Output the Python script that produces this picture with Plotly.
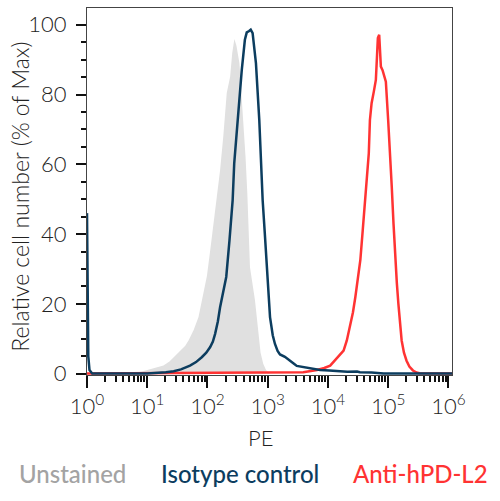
import plotly.graph_objects as go

# PE intensity (x) and % of max (y)
unstained_x = [1, 5.13, 8.13, 11.2, 14.5, 18.6, 23.4, 27.5, 32.4, 37.7, 42.8, 48.5, 59.0, 71.0,
               85.9, 97.9, 111, 126, 139, 162, 183, 209, 238, 258, 280, 303, 339, 365, 394,
               429, 459, 508, 615, 695, 762, 843, 938, 1076]
unstained_y = [0, 0, 0.6, 1.3, 1.8, 2.3, 3.5, 4.7, 6.0, 7.1, 8.0, 9.5, 12.5, 16.2,
               22.9, 28, 35.3, 43, 49.7, 58.3, 68, 80.4, 85.1, 92, 95.9, 94, 89, 81, 72.7,
               62, 51.7, 30.5, 21, 11.4, 6, 2.8, 1, 0]

isotype_x = [1, 1.05, 1.1, 1.22, 10, 14.5, 20.4, 27.5, 36.3, 51.3, 64.6, 80.4, 95.5, 111, 123,
             134, 149, 162, 183, 205, 232, 262, 278, 314, 371, 418, 449, 492, 523, 562,
             638, 725, 825, 897, 961, 1093, 1213, 1320, 1460, 1600, 1930, 2350, 2730,
             3040, 3960, 5120, 7420, 10500, 14200, 21000, 30400, 34000, 53000, 84000, 1150000]
isotype_y = [46, 5, 1, 0, 0, 0.1, 0.4, 0.7, 1.2, 2.3, 3.3, 4.7, 6.0, 7.6, 9.2,
             11.4, 15, 19, 23.5, 27.7, 38.2, 49.7, 60.2, 72.7, 87, 95.7, 97.8, 98.2, 98.6, 97.6,
             89, 72.7, 49.7, 40, 30.5, 16.2, 11, 8.5, 6.5, 5.5, 4.8, 3.8, 2.8,
             2.2, 1.9, 1.6, 1.05, 0.9, 0.7, 0.5, 0.6, 0.4, 0.3, 0, 0]

anti_x = [1, 3900, 6560, 8700, 10900, 12400, 14100, 16000, 18200, 20600, 23500, 26000, 28500,
          31300, 34500, 37800, 41900, 45000, 47700, 49800, 53100, 57900, 62500, 65700, 67500,
          71000, 75700, 80700, 91600, 100000, 108000, 114800, 122700, 130000, 139300, 147900,
          158000, 167500, 183000, 202000, 225000, 258000, 296000, 333000, 1150000]
anti_y = [0, 0.4, 1.05, 1.6, 2.3, 3.4, 4.7, 5.5, 6.6, 9.5, 13.8, 17.5, 21.9,
          27, 32.5, 41, 51.6, 58, 63.1, 72.7, 77.5, 80.9, 84.2, 92, 96.2,
          97.1, 88, 87, 83.7, 72.7, 63, 53.5, 43, 34.4, 26, 20,
          13.5, 9.5, 6, 3.7, 2, 0.9, 0.3, 0.1, 0]

x_ticks = [1, 10, 100, 1000, 10000, 100000, 1000000]
x_labels = ["10<sup>%d</sup>" % i for i in range(7)]
x_minor = [m * 10 ** d for d in range(6) for m in range(2, 10)]

legend_names = ["Unstained", "Isotype control", "Anti-hPD-L2"]
legend_colors = ["#a3a3a3", "#0c3d5f", "#ff3333"]
legend_pos = [-0.041, 0.419, 0.914]

fig = go.Figure()
fig.add_trace(go.Scatter(x=unstained_x, y=unstained_y, mode="lines", fill="tozeroy",
                         fillcolor="#e0e0e0", line=dict(width=0, color="#e0e0e0")))
fig.add_trace(go.Scatter(x=anti_x, y=anti_y, mode="lines",
                         line=dict(color="#ff3333", width=2.5)))
fig.add_trace(go.Scatter(x=isotype_x, y=isotype_y, mode="lines",
                         line=dict(color="#0c3d5f", width=2.5)))

for name, col, xp in zip(legend_names, legend_colors, legend_pos):
    fig.add_annotation(text=name, x=xp, y=-0.268, xref="paper", yref="paper",
                       xanchor="center", yanchor="middle", showarrow=False,
                       font=dict(family="Lato", size=24, color=col, weight=500))

fig.add_annotation(text="PE", x=0.475, y=-0.169, xref="paper", yref="paper",
                   xanchor="center", yanchor="middle", showarrow=False,
                   font=dict(family="Lato", size=22, color="#222", weight=300))

# y title as an annotation so it sits where the reference has it
fig.add_annotation(text="Relative cell number (% of Max)", x=-0.184, y=0.485,
                   xref="paper", yref="paper", textangle=-90,
                   xanchor="center", yanchor="middle", showarrow=False,
                   font=dict(family="Lato", size=23, color="#222", weight=300))

fig.update_layout(
    width=500,
    height=501,
    autosize=False,
    margin=dict(l=87, r=48, t=8, b=126),
    paper_bgcolor="white",
    plot_bgcolor="white",
    showlegend=False,
    font=dict(family="Lato", size=22, color="#222", weight=300),
    xaxis=dict(
        type="log",
        range=[0, 6.06],
        tickvals=x_ticks,
        ticktext=x_labels,
        ticks="outside",
        ticklen=12,
        tickwidth=2,
        tickcolor="#111",
        showgrid=False,
        zeroline=False,
        showline=True,
        linecolor="#444",
        linewidth=1,
        mirror=True,
        minor=dict(tickvals=x_minor, ticks="outside", ticklen=6, tickwidth=1.5,
                   tickcolor="#111", showgrid=False),
    ),
    yaxis=dict(
        range=[-0.4, 104.8],
        tickvals=[0, 20, 40, 60, 80, 100],
        ticks="outside",
        ticklen=10,
        tickwidth=2,
        tickcolor="#111",
        showgrid=False,
        zeroline=False,
        showline=True,
        linecolor="#444",
        linewidth=1,
        mirror=True,
        ticklabelstandoff=5,
        minor=dict(dtick=5, ticks="outside", ticklen=5, tickwidth=1.5,
                   tickcolor="#111", showgrid=False),
    ),
)

# page has a default 8px body margin; drop it so the figure sits at the corner
fig.write_html("out.html", config={"displayModeBar": False},
               post_script="document.body.style.margin='0';")
